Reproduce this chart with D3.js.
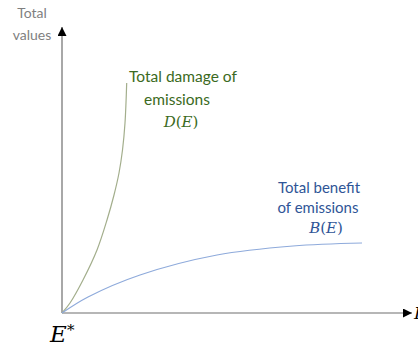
<!DOCTYPE html>
<html>
<head>
<meta charset="utf-8">
<script src="https://cdn.jsdelivr.net/npm/d3@7"></script>
<style>
  body { margin: 0; background: #fff; }
  text { font-family: Lato, "Open Sans", sans-serif; }
  .math { font-family: "DejaVu Serif", "Liberation Serif", serif; }
  .it { font-style: italic; }
</style>
</head>
<body>
<svg id="chart" width="418" height="347"></svg>
<script>
// curve points (emissions, value)
const damagePts = [[0, 0], [8, 10], [21, 33], [35, 63], [45, 93], [52, 118], [57, 140], [60.5, 163], [63, 190], [64.7, 230]];
const benefitPts = [[0, 0], [26, 16], [78, 38], [155, 58], [231, 67], [300, 70]];

const xDomain = [0, 350];
const yDomain = [0, 286];

const svg = d3.select("#chart");

const x = d3.scaleLinear().domain(xDomain).range([62, 412]);
const y = d3.scaleLinear().domain(yDomain).range([313, 27]);

// arrow heads
svg.append("defs").append("marker")
  .attr("id", "arrow")
  .attr("viewBox", "0 0 10 10")
  .attr("refX", 10).attr("refY", 5)
  .attr("markerWidth", 9).attr("markerHeight", 9)
  .attr("markerUnits", "userSpaceOnUse")
  .attr("orient", "auto")
  .append("path")
  .attr("d", "M0,0 L10,5 L0,10 Z")
  .attr("fill", "#000");

// axes
svg.append("line")
  .attr("x1", x(0)).attr("y1", y(0))
  .attr("x2", x(0)).attr("y2", y(yDomain[1]))
  .attr("stroke", "#6e6e6e").attr("stroke-width", 1.2)
  .attr("marker-end", "url(#arrow)");

svg.append("line")
  .attr("x1", x(0)).attr("y1", y(0))
  .attr("x2", x(xDomain[1])).attr("y2", y(0))
  .attr("stroke", "#6e6e6e").attr("stroke-width", 1.2)
  .attr("marker-end", "url(#arrow)");

const line = d3.line()
  .x(d => x(d[0]))
  .y(d => y(d[1]))
  .curve(d3.curveCatmullRom.alpha(0.5));

svg.append("path")
  .attr("d", line(damagePts))
  .attr("fill", "none")
  .attr("stroke", "#a3ae8c")
  .attr("stroke-width", 1.2);

svg.append("path")
  .attr("d", line(benefitPts))
  .attr("fill", "none")
  .attr("stroke", "#8eaadb")
  .attr("stroke-width", 1.2);

// y axis title
svg.append("text").attr("x", 32).attr("y", 18).attr("text-anchor", "middle")
  .attr("font-size", 14).attr("fill", "#7f7f7f").text("Total");
svg.append("text").attr("x", 32).attr("y", 40).attr("text-anchor", "middle")
  .attr("font-size", 14).attr("fill", "#7f7f7f").text("values");

// math label: italic letters, upright parentheses
function mathLabel(cx, cy, fn, color, size) {
  const t = svg.append("text").attr("class", "math")
    .attr("x", cx).attr("y", cy).attr("text-anchor", "middle")
    .attr("font-size", size).attr("fill", color);
  t.append("tspan").attr("class", "it").text(fn);
  t.append("tspan").text("(");
  t.append("tspan").attr("class", "it").text("E");
  t.append("tspan").text(")");
}

// damage label
const green = "#3b6a22";
svg.append("text").attr("x", 183).attr("y", 82).attr("text-anchor", "middle")
  .attr("font-size", 15.5).attr("fill", green).text("Total damage of");
svg.append("text").attr("x", 177).attr("y", 105).attr("text-anchor", "middle")
  .attr("font-size", 15.5).attr("fill", green).text("emissions");
mathLabel(181, 127, "D", green, 15);

// benefit label
const blue = "#2f5597";
svg.append("text").attr("x", 319).attr("y", 193).attr("text-anchor", "middle")
  .attr("font-size", 15).attr("fill", blue).text("Total benefit");
svg.append("text").attr("x", 318).attr("y", 213).attr("text-anchor", "middle")
  .attr("font-size", 15).attr("fill", blue).text("of emissions");
mathLabel(326, 233, "B", blue, 15);

// E* and E
svg.append("text").attr("class", "math it").attr("x", 50).attr("y", 342)
  .attr("font-size", 23).attr("fill", "#000").text("E");
svg.append("text").attr("class", "math").attr("x", 67).attr("y", 335)
  .attr("font-size", 15).attr("fill", "#000").text("*");
svg.append("text").attr("class", "math it").attr("x", 414).attr("y", 319)
  .attr("font-size", 17).attr("fill", "#000").text("E");
</script>
</body>
</html>
